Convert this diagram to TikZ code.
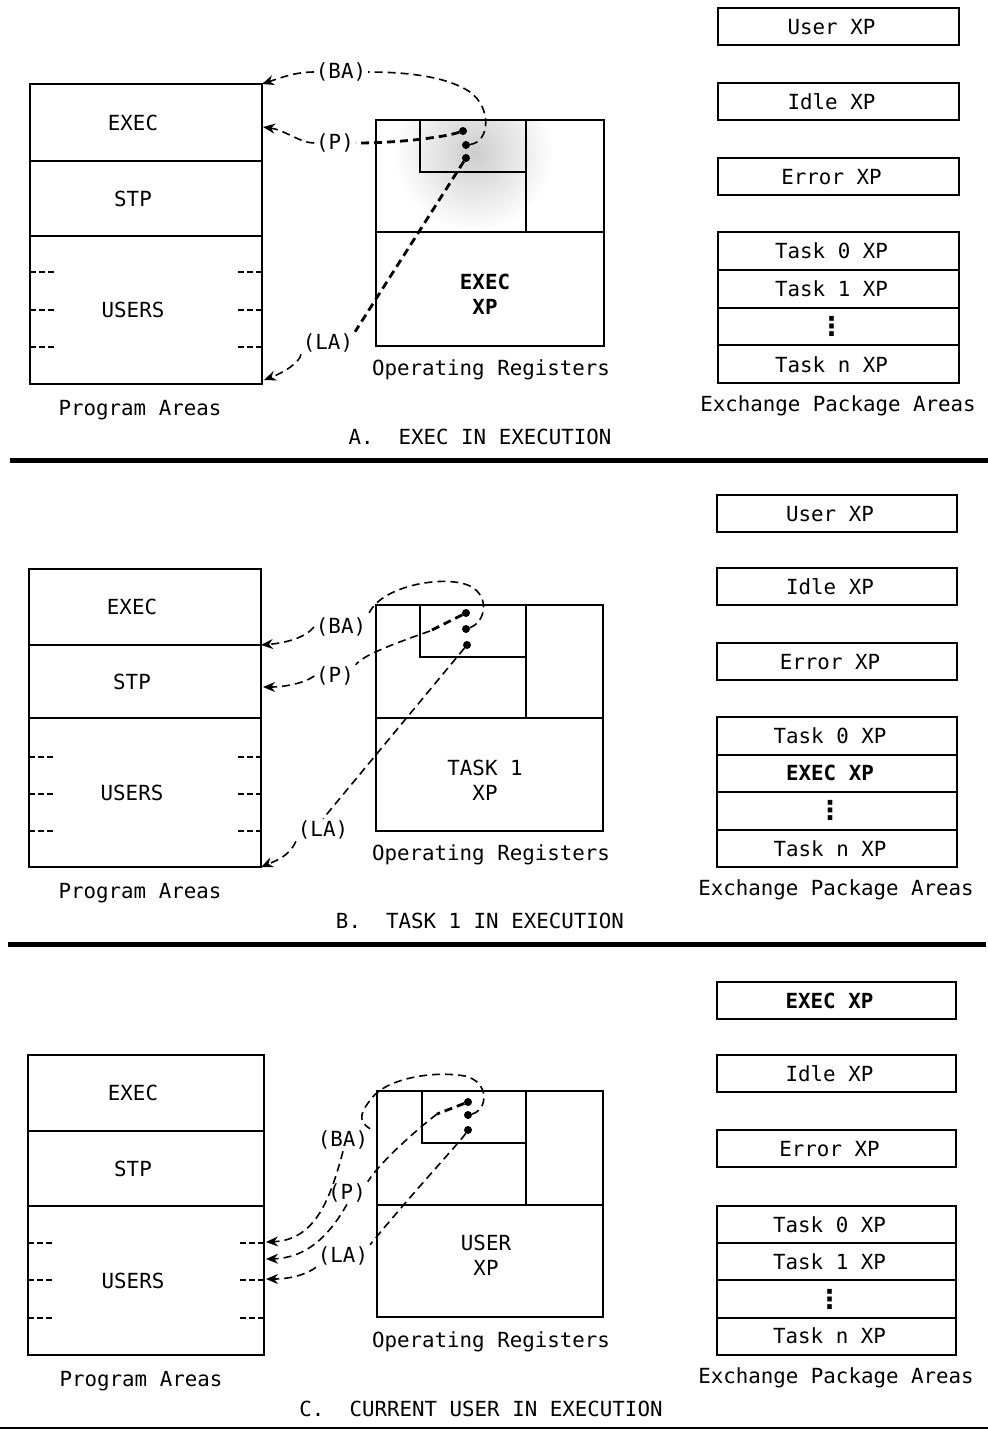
\documentclass[tikz,border=0pt]{standalone}
\usepackage{fontspec}
\usepackage{tikz}
\usetikzlibrary{positioning, arrows.meta, calc}
\newfontfamily\xpfont{DejaVu Sans Mono}
\newfontfamily\symfont{DejaVu Sans}
\newcommand\regfont{\xpfont\fontsize{10.4pt}{12.5pt}\selectfont}
\newcommand\xpdots{{\symfont\bfseries\fontsize{13pt}{13pt}\selectfont ⋮}}

\begin{document}
\begin{tikzpicture}[
    x=0.5pt, y=-0.5pt,
    every node/.style={font=\regfont, inner sep=0pt, outer sep=0pt, align=center},
    progbox/.style={draw, line width=1pt, minimum width=116pt, execute at begin node={\kern-13pt}},
    opbox/.style={draw, line width=1pt, minimum width=114pt, minimum height=113pt, anchor=north west},
    xpbox/.style={draw, line width=1pt, minimum width=120.5pt, minimum height=18.6pt, execute at begin node={\kern-7pt}},
    oprule/.style={line width=1pt},
    areatick/.style={line width=0.8pt, dash pattern=on 3pt off 1.5pt},
    ptr/.style={line width=0.8pt, dash pattern=on 4pt off 2.5pt},
    boldptr/.style={ptr, line width=1.4pt},
    regdot/.style={circle, fill, minimum size=4pt},
    ptrtag/.style={inner sep=1pt},
    >={Stealth[length=6pt, width=5pt]}
]
\useasboundingbox (0,0) rectangle (988,1431);

% ---------------- A. EXEC in execution ----------------
\node[progbox, minimum height=38.5pt, anchor=north west] (execA) at (30,84) {EXEC};
\node[progbox, minimum height=37.5pt, below=0pt of execA] (stpA) {STP};
\node[progbox, minimum height=74pt, below=0pt of stpA] (usersA) {USERS};
\draw[areatick] (30,272) -- (54,272) (30,310) -- (54,310) (30,347) -- (54,347);
\draw[areatick] (238,272) -- (262,272) (238,310) -- (262,310) (238,347) -- (262,347);
\node (progA) at (140,410) {Program Areas};

% operating registers, shaded
\begin{scope}
  \clip (376,120) rectangle (604,232);
  \shade[inner color=gray!40, outer color=white] (474,152) circle (40pt);
\end{scope}
\node[opbox, line width=1.3pt] (opA) at (376,120) {};
\draw[oprule, line width=1.3pt] (376,232) -- (604,232) (526,120) -- (526,232)
    (420,120) -- (420,172) -- (526,172);
\node[font=\regfont\bfseries] (opxpA) at (485,294) {EXEC\\XP};
\node (opregA) at (491,370) {Operating Registers};

\node[regdot] (pA1) at (463,131) {};
\node[regdot] (pA2) at (466,145) {};
\node[regdot] (pA3) at (466,158) {};
\node[ptrtag] (baA) at (341,72) {(BA)};
\node[ptrtag] (pA) at (335,143) {(P)};
\node[ptrtag] (laA) at (328,343) {(LA)};
\coordinate (tPA) at (263,127);
\coordinate (tLA) at (264,380);

\draw[ptr] (pA2) .. controls (490,142) and (492,108) .. (470,92)
    .. controls (445,75) and (400,72) .. (baA.east);
\draw[ptr,->] (baA.west) .. controls (295,72) and (280,78) .. (execA.north east);
\draw[boldptr] (pA1) .. controls (445,137) and (400,143) .. (pA.east);
\draw[ptr,->] (pA.west) .. controls (300,143) and (285,130) .. (tPA);
\draw[boldptr] (pA3) -- (laA.north east);
\draw[ptr,->] (laA.south west) .. controls (300,362) and (285,372) .. (tLA);

% exchange packages
\node[xpbox, anchor=north west] (userA) at (718,8) {User XP};
\node[xpbox, anchor=north west] (idleA) at (718,83) {Idle XP};
\node[xpbox, anchor=north west] (errA) at (718,158) {Error XP};
\node[xpbox, anchor=north west, minimum height=18.9pt] (t0A) at (718,232) {Task 0 XP};
\node[xpbox, minimum height=18.9pt, below=0pt of t0A] (t1A) {Task 1 XP};
\node[xpbox, minimum height=18.9pt, below=0pt of t1A] (tdA) {\xpdots};
\node[xpbox, minimum height=18.9pt, below=0pt of tdA] (tnA) {Task n XP};
\node (xpareaA) at (838,406) {Exchange Package Areas};

\node (capA) at (480,437) {A.\ \ EXEC IN EXECUTION};
\draw[line width=2.5pt] (10,460) -- (988,460);

% ---------------- B. TASK 1 in execution ----------------
\node[progbox, minimum height=38pt, anchor=north west] (execB) at (29,569) {EXEC};
\node[progbox, minimum height=36.5pt, below=0pt of execB] (stpB) {STP};
\node[progbox, minimum height=74.5pt, below=0pt of stpB] (usersB) {USERS};
\draw[areatick] (29,757) -- (53,757) (29,794) -- (53,794) (29,831) -- (53,831);
\draw[areatick] (238,757) -- (262,757) (238,794) -- (262,794) (238,831) -- (262,831);
\node (progB) at (140,893) {Program Areas};

\node[opbox, minimum width=113.5pt] (opB) at (376,605) {};
\draw[oprule] (376,718) -- (603,718) (526,605) -- (526,718)
    (420,605) -- (420,657) -- (526,657);
\node (opxpB) at (485,780) {TASK 1\\XP};
\node (opregB) at (491,855) {Operating Registers};

\node[regdot] (pB1) at (466,613) {};
\node[regdot] (pB2) at (466,629) {};
\node[regdot] (pB3) at (467,645) {};
\node[ptrtag] (baB) at (341,627) {(BA)};
\node[ptrtag] (pB) at (335,676) {(P)};
\node[ptrtag] (laB) at (323,830) {(LA)};
\coordinate (bendPB) at (430,631);
\coordinate (tPB) at (263,687);

\draw[ptr] (pB2) .. controls (486,622) and (490,596) .. (470,586)
    .. controls (445,574) and (378,586) .. (baB.north east);
\draw[ptr,->] (baB.west) .. controls (305,638) and (285,643) .. (stpB.north east);
\draw[boldptr] (pB1) -- (bendPB);
\draw[ptr] (bendPB) .. controls (390,645) and (362,656) .. (pB.north east);
\draw[ptr,->] (pB.west) .. controls (305,683) and (285,687) .. (tPB);
\draw[ptr] (pB3) -- (laB.north);
\draw[ptr,->] (laB.south west) .. controls (290,855) and (278,860) .. (usersB.south east);

\node[xpbox, anchor=north west, minimum width=120pt] (userB) at (717,495) {User XP};
\node[xpbox, anchor=north west, minimum width=120pt] (idleB) at (717,568) {Idle XP};
\node[xpbox, anchor=north west, minimum width=120pt] (errB) at (717,643) {Error XP};
\node[xpbox, anchor=north west, minimum width=120pt, minimum height=18.75pt] (t0B) at (717,717) {Task 0 XP};
\node[xpbox, minimum width=120pt, minimum height=18.75pt, below=0pt of t0B, font=\regfont\bfseries] (t1B) {EXEC XP};
\node[xpbox, minimum width=120pt, minimum height=18.75pt, below=0pt of t1B] (tdB) {\xpdots};
\node[xpbox, minimum width=120pt, minimum height=18.75pt, below=0pt of tdB] (tnB) {Task n XP};
\node (xpareaB) at (836,890) {Exchange Package Areas};

\node (capB) at (480,921) {B.\ \ TASK 1 IN EXECUTION};
\draw[line width=2.5pt] (8,944) -- (986,944);

% ---------------- C. current user in execution ----------------
\node[progbox, minimum width=118pt, minimum height=38pt, anchor=north west] (execC) at (28,1055) {EXEC};
\node[progbox, minimum width=118pt, minimum height=37.5pt, below=0pt of execC] (stpC) {STP};
\node[progbox, minimum width=118pt, minimum height=74.5pt, below=0pt of stpC] (usersC) {USERS};
\draw[areatick] (28,1243) -- (52,1243) (28,1280) -- (52,1280) (28,1318) -- (52,1318);
\draw[areatick] (240,1243) -- (264,1243) (240,1280) -- (264,1280) (240,1318) -- (264,1318);
\node (progC) at (141,1381) {Program Areas};

\node[opbox, minimum width=113pt] (opC) at (377,1091) {};
\draw[oprule] (377,1205) -- (603,1205) (526,1091) -- (526,1205)
    (422,1091) -- (422,1143) -- (526,1143);
\node (opxpC) at (486,1255) {USER\\XP};
\node (opregC) at (491,1342) {Operating Registers};

\node[regdot] (pC1) at (468,1102) {};
\node[regdot] (pC2) at (468,1115) {};
\node[regdot] (pC3) at (468,1130) {};
\node[ptrtag] (baC) at (343,1140) {(BA)};
\node[ptrtag] (pC) at (347,1193) {(P)};
\node[ptrtag] (laC) at (343,1256) {(LA)};
\coordinate (bendPC) at (437,1114);
\coordinate (tBAC) at (266,1242);
\coordinate (tPC) at (266,1259);
\coordinate (tLAC) at (266,1279);

\draw[ptr] (pC2) .. controls (488,1110) and (490,1082) .. (465,1076)
    .. controls (430,1070) and (385,1080) .. (372,1098)
    .. controls (362,1110) and (356,1120) .. (baC.north east);
\draw[ptr,->] (baC.south) .. controls (330,1200) and (315,1240) .. (tBAC);
\draw[boldptr] (pC1) -- (bendPC);
\draw[ptr] (bendPC) .. controls (410,1135) and (378,1165) .. (pC.north east);
\draw[ptr,->] (pC.south) .. controls (328,1238) and (305,1258) .. (tPC);
\draw[ptr] (pC3) .. controls (460,1142) and (415,1190) .. (laC.north east);
\draw[ptr,->] (laC.south west) .. controls (310,1272) and (295,1279) .. (tLAC);

\node[xpbox, anchor=north west, minimum width=119.5pt, font=\regfont\bfseries] (execxpC) at (717,982) {EXEC XP};
\node[xpbox, anchor=north west, minimum width=119.5pt] (idleC) at (717,1055) {Idle XP};
\node[xpbox, anchor=north west, minimum width=119.5pt] (errC) at (717,1130) {Error XP};
\node[xpbox, anchor=north west, minimum width=119.5pt, minimum height=18.6pt] (t0C) at (717,1206) {Task 0 XP};
\node[xpbox, minimum width=119.5pt, minimum height=18.6pt, below=0pt of t0C] (t1C) {Task 1 XP};
\node[xpbox, minimum width=119.5pt, minimum height=18.6pt, below=0pt of t1C] (tdC) {\xpdots};
\node[xpbox, minimum width=119.5pt, minimum height=18.6pt, below=0pt of tdC] (tnC) {Task n XP};
\node (xpareaC) at (836,1378) {Exchange Package Areas};

\node (capC) at (481,1409) {C.\ \ CURRENT USER IN EXECUTION};
\draw[line width=1pt] (0,1428) -- (988,1428);

\end{tikzpicture}
\end{document}
